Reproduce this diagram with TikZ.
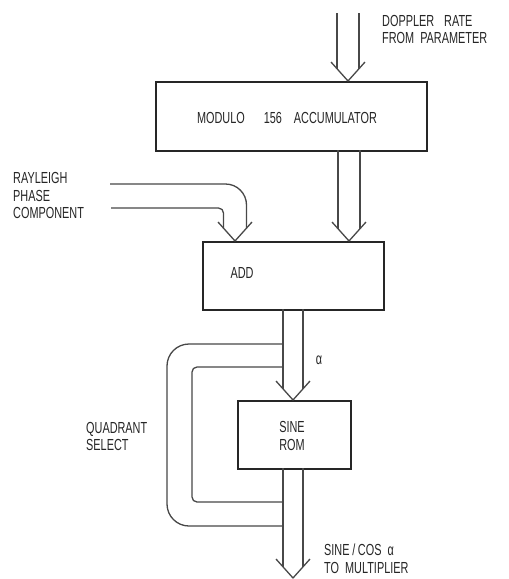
\documentclass[tikz,border=0pt]{standalone}
\usepackage{fontspec}
\setmainfont{Liberation Sans}[FakeStretch=0.68, WordSpace=2]
\definecolor{ink}{HTML}{262626}
\definecolor{inkl}{HTML}{484848}
\tikzset{
  box/.style={draw=ink, line width=1.8pt, anchor=north west, inner sep=0pt},
  arr/.style={draw=inkl, line width=1.3pt, line join=round},
  lbl/.style={font=\fontsize{16}{17.5}\selectfont, text=ink, inner sep=0pt},
  every node/.style={font=\fontsize{16}{17.5}\selectfont}
}
\newcommand{\fatarrow}[4]{%
  \draw[arr] ({#1-#4},#2) -- ({#1-#4},{#3-19*#4/17});
  \draw[arr] ({#1+#4},#2) -- ({#1+#4},{#3-19*#4/17});
  \draw[arr] ({#1-17},{#3-19}) -- (#1,#3) -- ({#1+17},{#3-19});
}
\begin{document}
\begin{tikzpicture}[x=1pt,y=-1pt]
\path[use as bounding box, fill=white] (0,0) rectangle (509,579);

% boxes
\node[box, minimum width=271pt, minimum height=69pt] (acc) at (155,81) {};
\node[box, minimum width=181pt, minimum height=68pt] (add) at (202,241) {};
\node[box, minimum width=113pt, minimum height=68pt] (rom) at (237,400) {};

% box texts
\node[lbl] (acctxt) at (287,118) {MODULO\hspace{19pt}156\hspace{12pt}ACCUMULATOR};
\node[lbl] (addtxt) at (242,273) {ADD};
\node[lbl, align=center] (romtxt) at (292,436) {SINE\\ROM};

% external labels
\node[lbl, anchor=west, align=left] (dop) at (382,29.5) {DOPPLER\hspace{10pt}RATE\\FROM PARAMETER};
\node[lbl, anchor=west, align=left] (ray) at (13,195.5) {RAYLEIGH\\PHASE\\COMPONENT};
\node[lbl, anchor=west, align=left] (quad) at (86,436.5) {QUADRANT\\SELECT};
\node[lbl, anchor=west, align=left] (out) at (324,559) {SINE\,/\,COS α\\TO MULTIPLIER};
\node[lbl] (alpha) at (319,360) {α};

% doppler input arrow
\fatarrow{348}{13}{81}{11}
% accumulator -> add
\fatarrow{349}{150}{241}{11}
% add -> sine rom
\fatarrow{293}{309}{400}{10}
% sine rom -> output
\fatarrow{293}{468}{578}{10}

% rayleigh phase bent arrow
\draw[arr, rounded corners=21pt] (110,184) -- (246.5,184) -- (246.5,228.1);
\draw[arr, rounded corners=5pt] (111,208) -- (223.5,208) -- (223.5,228.1);
\draw[arr] (218,222) -- (235,241) -- (252,222);

% quadrant select loop
\draw[arr, rounded corners=22pt] (283,344) -- (167,344) -- (167,526) -- (283,526);
\draw[arr, rounded corners=5pt] (283,367) -- (192,367) -- (192,502) -- (283,502);
\end{tikzpicture}
\end{document}
